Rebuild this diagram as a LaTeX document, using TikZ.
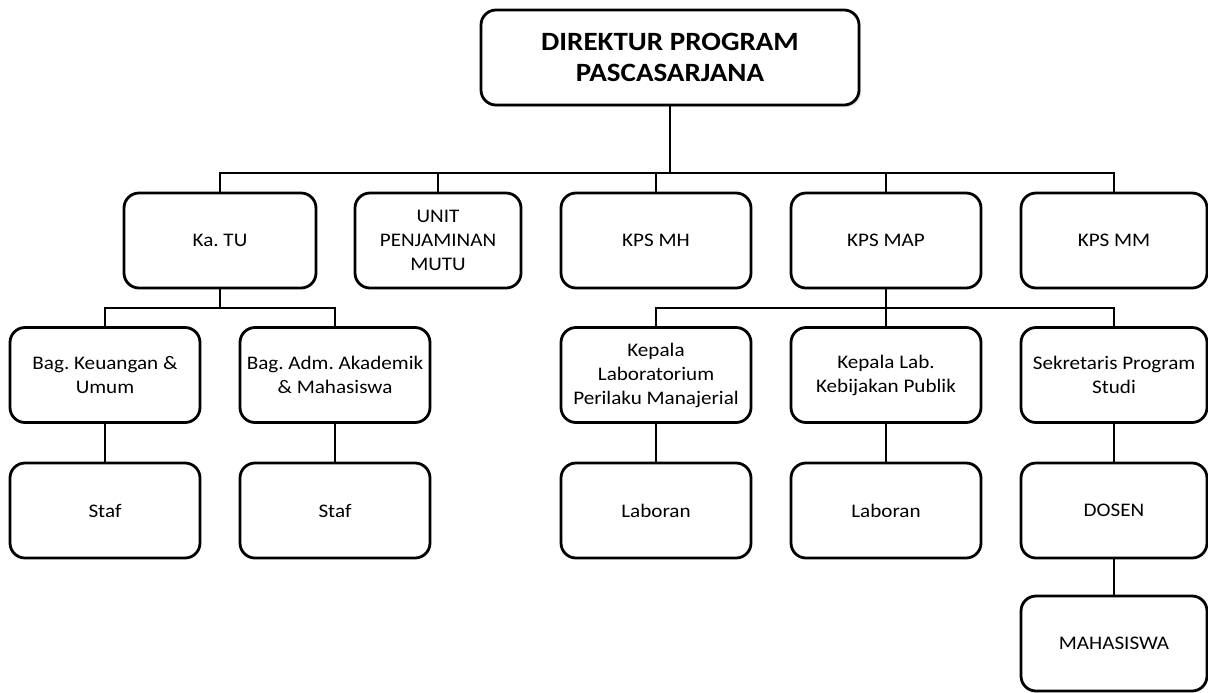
\documentclass[tikz,border=0pt]{standalone}
\usepackage{fontspec}
\setmainfont{Carlito}[FakeStretch=1.1]
\usepackage{tikz}
\usetikzlibrary{shadows}
\frenchspacing

\begin{document}
\begin{tikzpicture}[x=0.5pt,y=-0.5pt]
      \tikzstyle{box} = [draw, line width=1.4pt, rounded corners=7.5pt, fill=white, align=center, minimum width=95pt, minimum height=47.5pt, inner sep=2pt, font=\fontsize{9.6}{12}\selectfont]
      \tikzstyle{link} = [line width=1.25pt]

      \useasboundingbox (0,0) rectangle (1208,692);

      \node[box, minimum width=189pt, font=\fontsize{13.2}{15.4}\selectfont\bfseries, drop shadow={shadow xshift=1pt, shadow yshift=-1pt, opacity=0.25}] (dir) at (670,57.5) {DIREKTUR PROGRAM\\PASCASARJANA};

      \node[box, minimum width=96pt] (tu) at (220,240.5) {Ka. TU};
      \node[box, minimum width=83pt] (upm) at (438,240.5) {UNIT\\PENJAMINAN\\MUTU};
      \node[box] (mh) at (656,240.5) {KPS MH};
      \node[box] (map) at (886,240.5) {KPS MAP};
      \node[box, minimum width=93pt] (mm) at (1114,240.5) {KPS MM};

      \node[box] (keu) at (105,375) {Bag. Keuangan \&\\Umum};
      \node[box] (adm) at (335,375) {Bag. Adm. Akademik\\\& Mahasiswa};
      \node[box] (labpm) at (656,375) {Kepala\\Laboratorium\\Perilaku Manajerial};
      \node[box] (labkp) at (886,375) {Kepala Lab.\\Kebijakan Publik};
      \node[box, minimum width=93pt] (sekr) at (1114,375) {Sekretaris Program\\Studi};

      \node[box] (staf1) at (105,510.5) {Staf};
      \node[box] (staf2) at (335,510.5) {Staf};
      \node[box] (lab1) at (656,510.5) {Laboran};
      \node[box] (lab2) at (886,510.5) {Laboran};
      \node[box, minimum width=93pt] (dosen) at (1114,510.5) {DOSEN};

      \node[box, minimum width=93pt] (mhs) at (1114,643.5) {MAHASISWA};

      \coordinate (bus0) at (670,173);
      \coordinate (bus1) at (0,308);

      \draw[link] (dir) -- (bus0);
      \draw[link] (tu.north) -- (tu.north |- bus0) -- (mm.north |- bus0) -- (mm.north);
      \draw[link] (upm.north) -- (upm.north |- bus0);
      \draw[link] (mh.north) -- (mh.north |- bus0);
      \draw[link] (map.north) -- (map.north |- bus0);

      \draw[link] (tu) -- (tu |- bus1);
      \draw[link] (keu.north) -- (keu.north |- bus1) -- (adm.north |- bus1) -- (adm.north);
      \draw[link] (map) -- (map |- bus1);
      \draw[link] (labpm.north) -- (labpm.north |- bus1) -- (sekr.north |- bus1) -- (sekr.north);
      \draw[link] (labkp.north) -- (labkp.north |- bus1);

      \draw[link] (keu) -- (staf1);
      \draw[link] (adm) -- (staf2);
      \draw[link] (labpm) -- (lab1);
      \draw[link] (labkp) -- (lab2);
      \draw[link] (sekr) -- (dosen);
      \draw[link] (dosen) -- (mhs);
\end{tikzpicture}
\end{document}
